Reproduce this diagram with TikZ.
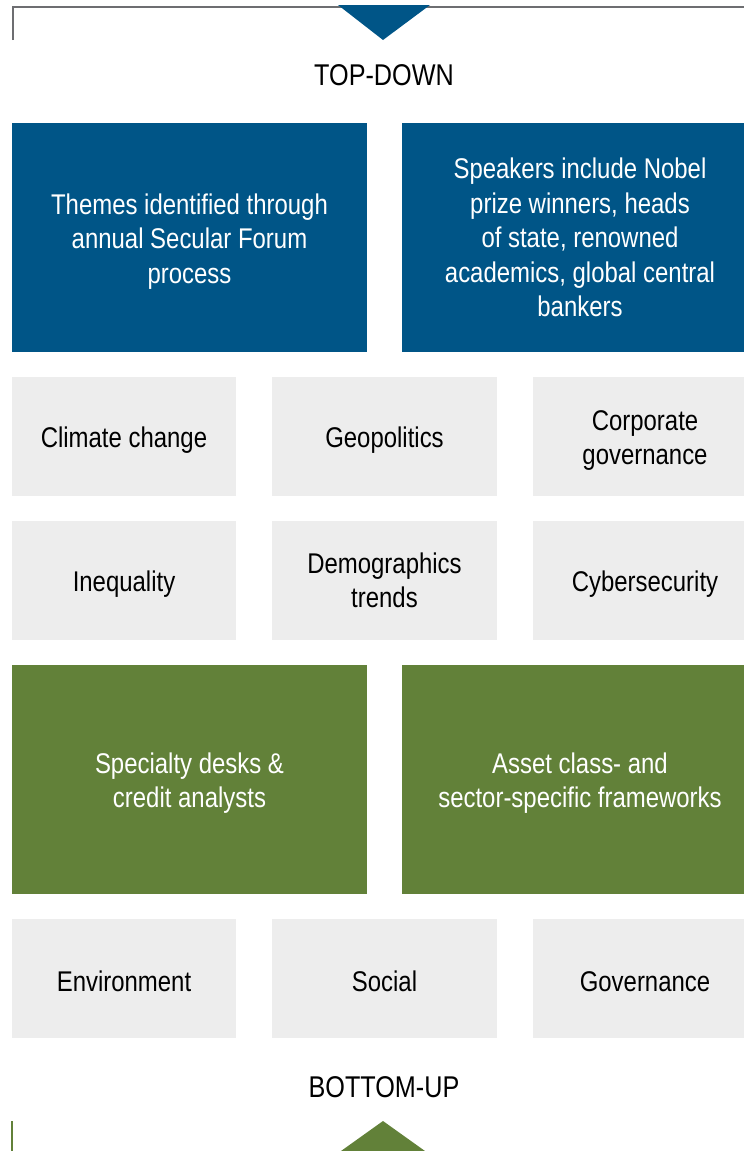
\documentclass[tikz,border=0pt]{standalone}
\usepackage{fontspec}
\setmainfont[FakeStretch=0.84]{Liberation Sans}
\definecolor{themeblue}{HTML}{005587}
\definecolor{themegreen}{HTML}{628139}
\definecolor{themegray}{HTML}{EDEDED}
\definecolor{rulegray}{HTML}{6D6E71}
\newcommand{\topgap}{\rule{0pt}{28pt}}
\begin{document}
\begin{tikzpicture}[x=1pt,y=-1pt,
    every node/.style={font=\fontsize{28.5}{34.5}\selectfont, align=center, inner sep=0pt},
    boxtext/.style={execute at begin node=\topgap},
    bigbox/.style={boxtext, minimum height=229pt, text=white},
    bluebox/.style={bigbox, fill=themeblue},
    greenbox/.style={bigbox, fill=themegreen},
    smallbox/.style={boxtext, fill=themegray, minimum height=119pt},
    heading/.style={font=\fontsize{30}{34.5}\selectfont}]
          \useasboundingbox (0,0) rectangle (744,1151);

          % top bracket
          \draw [rulegray, line width=2.5pt] (13,40) -- (13,7) -- (744,7);
          \fill [themeblue] (338,5) -- (430,5) -- (383,40) -- cycle;
          \node (top) [heading] at (384,75) {TOP-DOWN};

          \node (themes)   [bluebox, minimum width=355pt] at (189.5,237.5)
                {\topgap Themes identified through\\annual Secular Forum\\process};
          \node (speakers) [bluebox, minimum width=356pt] at (580,237.5)
                {Speakers include Nobel\\prize winners, heads\\of state, renowned\\academics, global central\\bankers};

          \node (climate)  [smallbox, minimum width=224pt] at (124,436.5)   {Climate change};
          \node (geo)      [smallbox, minimum width=225pt] at (384.5,436.5) {Geopolitics};
          \node (corp)     [smallbox, minimum width=224pt] at (645,436.5)   {\topgap Corporate\\governance};

          \node (ineq)     [smallbox, minimum width=224pt] at (124,580.5)   {Inequality};
          \node (demo)     [smallbox, minimum width=225pt] at (384.5,580.5) {Demographics\\trends};
          \node (cyber)    [smallbox, minimum width=224pt] at (645,580.5)   {Cybersecurity};

          \node (desks)    [greenbox, minimum width=355pt] at (189.5,779.5)
                {\topgap Specialty desks \&\\credit analysts};
          \node (frame)    [greenbox, minimum width=356pt] at (580,779.5)
                {\topgap Asset class- and\\sector-specific frameworks};

          \node (env)      [smallbox, minimum width=224pt] at (124,978)   {Environment};
          \node (social)   [smallbox, minimum width=225pt] at (384.5,978) {Social};
          \node (gov)      [smallbox, minimum width=224pt] at (645,978)   {Governance};

          % bottom bracket
          \node (bottom) [heading] at (384,1087) {BOTTOM-UP};
          \draw [themegreen, line width=2.5pt] (12,1121) -- (12,1151);
          \fill [themegreen] (383,1121) -- (425,1151) -- (341,1151) -- cycle;
        \end{tikzpicture}
\end{document}
